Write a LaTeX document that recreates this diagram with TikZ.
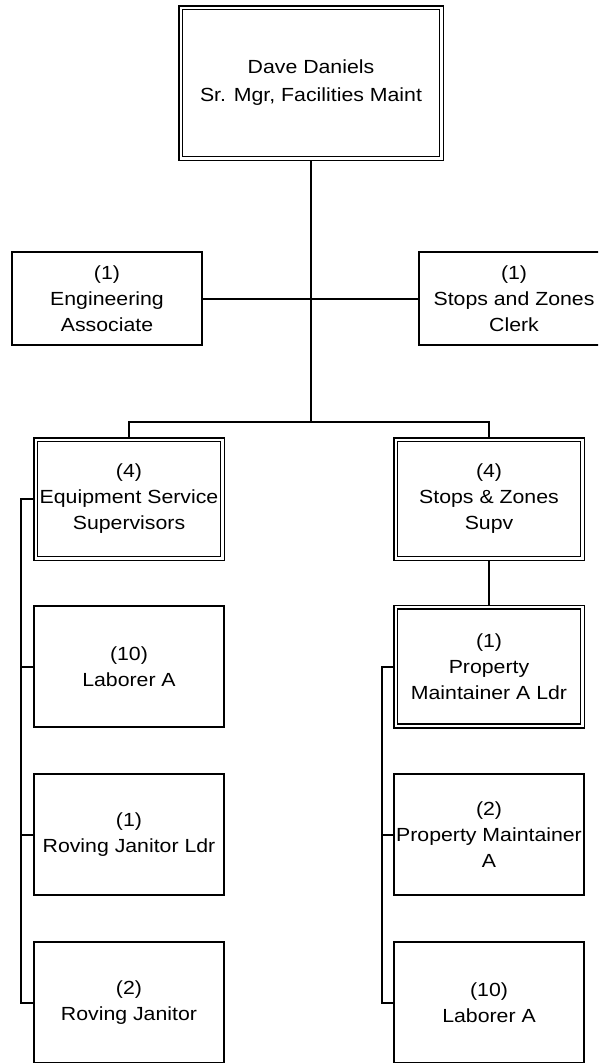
\documentclass[tikz,border=0pt]{standalone}
\usepackage{fontspec}
\setmainfont{Liberation Sans}[FakeStretch=1.12]
\usetikzlibrary{backgrounds}
\begin{document}
\begin{tikzpicture}[x=1pt,y=-1pt,
  box/.style={draw=black, line width=1.9pt, fill=white, align=center, inner sep=0pt,
    minimum width=190.1pt, minimum height=121.1pt, font=\fontsize{19}{26}\selectfont},
  dbox/.style={box, double=white, line width=1.5pt, double distance=2.3pt,
    minimum width=186.7pt, minimum height=118.7pt},
  link/.style={draw=black, line width=2pt},
  trunk/.style={draw=black, line width=2.5pt},
]
\useasboundingbox (0,0) rectangle (598,1063);
\clip (0,0) rectangle (598,1063);

\node[dbox, minimum width=260.7pt, minimum height=150.7pt, font=\fontsize{19}{28}\selectfont] (top) at (311,83) {Dave Daniels\\Sr. Mgr, Facilities Maint};
\node[box, minimum height=93.1pt] (eng) at (107,298.5) {(1)\\Engineering\\Associate};
\node[box, minimum height=93.1pt] (clerk) at (514,298.5) {(1)\\Stops and Zones\\Clerk};
\node[dbox] (ess) at (129,499) {(4)\\Equipment Service\\Supervisors};
\node[dbox] (szs) at (489,499) {(4)\\Stops \& Zones\\Supv};
\node[dbox] (pmal) at (489,666.5) {(1)\\Property\\Maintainer A Ldr};
\node[box] (labL) at (129,666.5) {(10)\\Laborer A};
\node[box] (rjl) at (129,834.5) {(1)\\Roving Janitor Ldr};
\node[box] (rj) at (129,1002.5) {(2)\\Roving Janitor};
\node[box] (pma) at (489,834.5) {(2)\\Property Maintainer\\A};
\node[box] (labR) at (489,1002.5) {(10)\\Laborer A};

\coordinate (bus) at (311,422);
\coordinate (lb) at (21,0);
\coordinate (rb) at (382,0);

\begin{scope}[on background layer]
  \draw[trunk] (top.south) -- (bus);
  \draw[link] (eng.east) -- (clerk.west);
  \draw[link] (ess.north) |- (bus) -| (szs.north);
  \draw[link] (szs.south) -- (pmal.north);
  \draw[link] (ess.west) -- (ess.west -| lb) -- (rj.west -| lb) -- (rj.west);
  \draw[link] (labL.west) -- (labL.west -| lb);
  \draw[link] (rjl.west) -- (rjl.west -| lb);
  \draw[link] (pmal.west) -- (pmal.west -| rb) -- (labR.west -| rb) -- (labR.west);
  \draw[link] (pma.west) -- (pma.west -| rb);
\end{scope}
\end{tikzpicture}
\end{document}
